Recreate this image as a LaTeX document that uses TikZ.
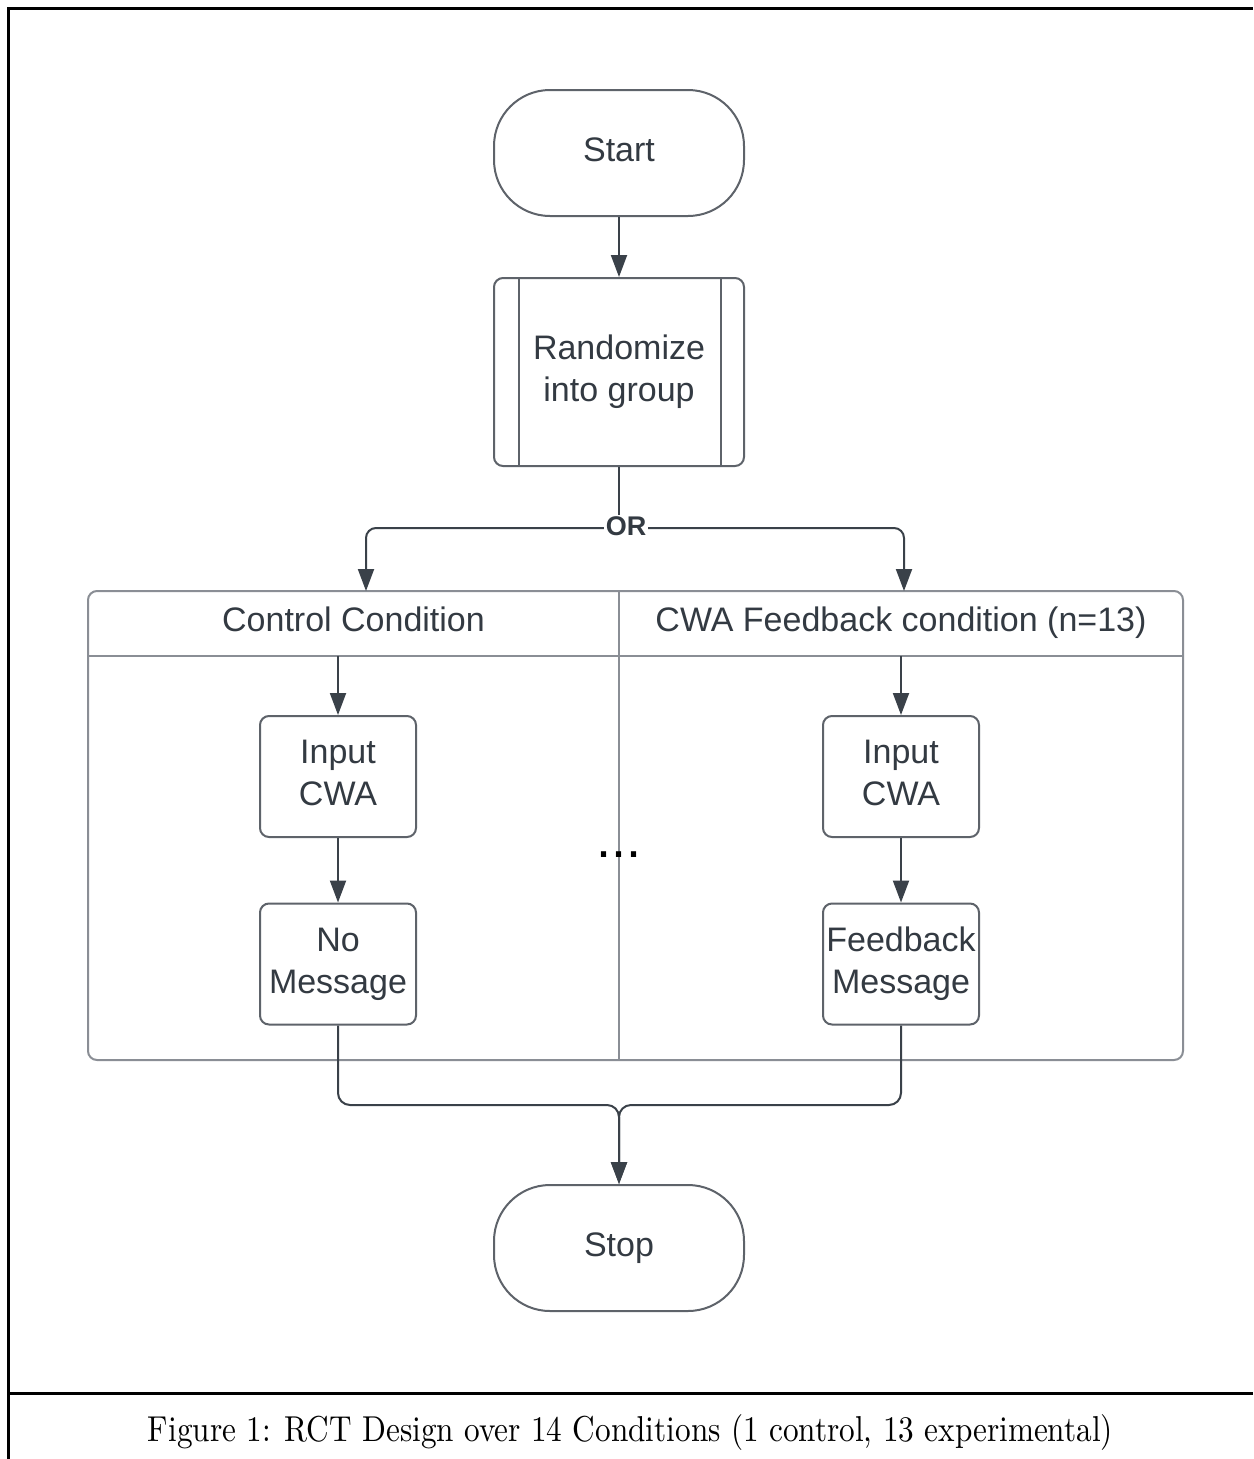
\documentclass[tikz,border=0pt]{standalone}
\usepackage{graphicx}
\usepackage{fontspec}
\newfontfamily\lsans{Liberation Sans}
\usetikzlibrary{arrows.meta}
\definecolor{txt}{HTML}{333A42}
\definecolor{edgec}{HTML}{5E636A}
\definecolor{lanec}{HTML}{8A8E95}
\definecolor{arrc}{HTML}{3A4149}
\begin{document}
\begin{tikzpicture}[x=1pt,y=-1pt,
  every node/.style={font=\lsans\fontsize{34}{42}\selectfont, text=txt, align=center},
  box/.style={draw=edgec, line width=2pt, rounded corners=9pt, minimum width=156pt, minimum height=121pt, inner sep=0pt},
  term/.style={draw=edgec, line width=2pt, rounded corners=56pt, minimum width=250pt, minimum height=126pt},
  conn/.style={draw=arrc, line width=2pt},
  arr/.style={conn, -{Triangle[length=22pt,width=16pt]}},
  lane/.style={draw=lanec, line width=2pt},
  frame/.style={draw=black, line width=3pt}
]
\useasboundingbox (0,0) rectangle (1253,1459);
\fill[white] (0,0) rectangle (1253,1459);
% outer frame
\draw[frame] (8,1459) -- (8,8) -- (1253,8);
\draw[frame] (8,1393) -- (1253,1393);

% top part
\node[term] (start) at (619,153) {\strut Start};
\node[box, minimum width=250pt, minimum height=188pt] (rand) at (619,372) {\strut Randomize\\\strut into group};
\draw[draw=edgec, line width=2pt] ([xshift=26pt]rand.north west) -- ([xshift=26pt]rand.south west);
\draw[draw=edgec, line width=2pt] ([xshift=-24pt]rand.north east) -- ([xshift=-24pt]rand.south east);
\draw[arr] (start.south) -- (rand.north);

% swimlane pool
\draw[lane, rounded corners=9pt] (88,591) rectangle (1183,1060);
\draw[lane] (88,656) -- (1183,656);
\draw[lane] (619,591) -- (619,1060);
\node (hl) at (353.5,623.5) {\strut Control Condition};
\node (hr) at (901,623.5) {\strut CWA Feedback condition (n=13)};

% split
\coordinate (split) at (619,528);
\coordinate (ctrlIn) at (366,591);
\coordinate (cwaIn) at (904,591);
\draw[conn] (rand.south) -- (split);
\draw[arr, rounded corners=10pt] (split) -| (ctrlIn);
\draw[arr, rounded corners=10pt] (split) -| (cwaIn);
\node[fill=white, font=\lsans\bfseries\fontsize{27}{30}\selectfont, inner sep=1.5pt] (or) at (626,526) {OR};

% lanes content
\node[box] (in1) at (338,776.5) {\strut Input\\\strut CWA};
\node[box] (nm) at (338,964) {\strut No\\\strut Message};
\node[box] (in2) at (901,776.5) {\strut Input\\\strut CWA};
\node[box] (fb) at (901,964) {\strut Feedback\\\strut Message};
\coordinate (l1) at (338,656);
\coordinate (l2) at (901,656);
\draw[arr] (l1) -- (in1.north);
\draw[arr] (in1.south) -- (nm.north);
\draw[arr] (l2) -- (in2.north);
\draw[arr] (in2.south) -- (fb.north);
\node[anchor=base, text=black, font=\lsans\fontsize{54}{54}\selectfont, inner sep=0pt] (dots) at (619,857) {...};

% merge to stop
\node[term] (stop) at (619,1248) {\strut Stop};
\coordinate (merge) at (619,1105);
\draw[arr, rounded corners=12pt] (nm.south) |- (merge) -- (stop.north);
\draw[arr, rounded corners=12pt] (fb.south) |- (merge) -- (stop.north);

% caption
\node[anchor=base, inner sep=0pt, text=black, font=\rmfamily] (cap) at (630.5,1441) {\resizebox{965pt}{27pt}{Figure 1: RCT Design over 14 Conditions (1 control, 13 experimental)}};
\end{tikzpicture}
\end{document}
